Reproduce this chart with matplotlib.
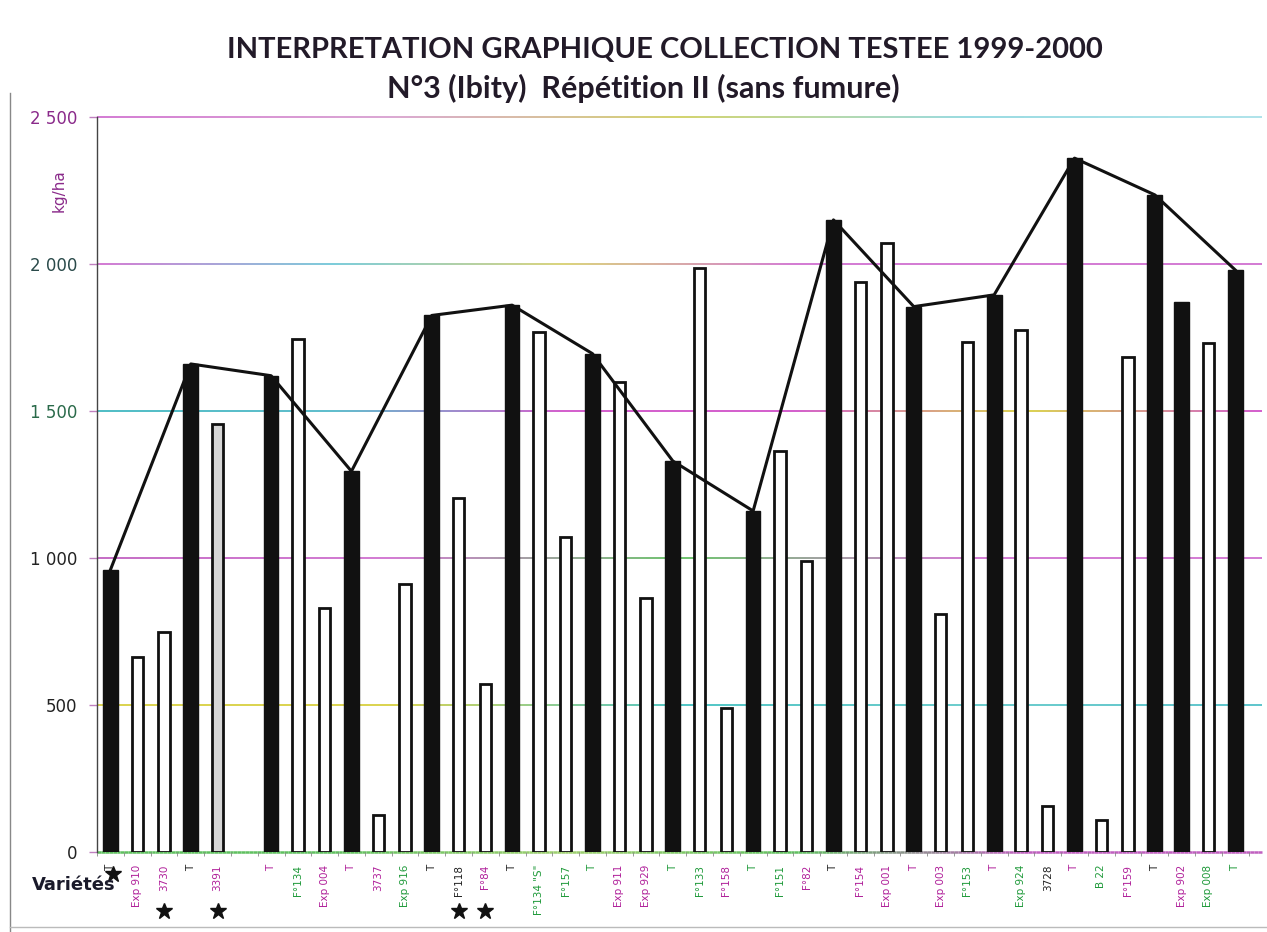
import numpy as np
import matplotlib
matplotlib.use("Agg")
import matplotlib.pyplot as plt
from matplotlib.collections import LineCollection
from matplotlib.colors import LinearSegmentedColormap
from matplotlib.lines import Line2D

# rendements par variété (kg/ha), témoins "T" compris
varietes = ["T", "Exp 910", "3730", "T", "3391", "", "T", "F°134", "Exp 004", "T",
            "3737", "Exp 916", "T", "F°118", "F°84", "T", "F°134 \"S\"", "F°157", "T",
            "Exp 911", "Exp 929", "T", "F°133", "F°158", "T", "F°151", "F°82", "T",
            "F°154", "Exp 001", "T", "Exp 003", "F°153", "T", "Exp 924", "3728", "T",
            "B 22", "F°159", "T", "Exp 902", "Exp 008", "T"]
rendement = [960, 665, 750, 1660, 1455, 0, 1620, 1745, 830, 1295,
             125, 910, 1825, 1205, 570, 1860, 1770, 1070, 1695,
             1600, 865, 1330, 1985, 490, 1160, 1365, 990, 2150,
             1940, 2070, 1855, 810, 1735, 1895, 1775, 155, 2360,
             110, 1685, 2235, 1870, 1730, 1980]
marquees = [0, 2, 4, 13, 14]   # positions signalées d'une étoile
fond_gris = ["3391"]
fond_noir = ["T", "Exp 902"]

MAG, VERT, NOIR = "#b0209a", "#1f9a3a", "#222222"
couleurs_etiq = [NOIR, MAG, MAG, NOIR, MAG, NOIR, MAG, VERT, MAG, MAG,
                 MAG, VERT, NOIR, NOIR, MAG, NOIR, VERT, VERT, VERT,
                 MAG, MAG, VERT, VERT, MAG, VERT, VERT, MAG, NOIR,
                 MAG, MAG, MAG, MAG, VERT, MAG, VERT, NOIR, MAG,
                 VERT, MAG, NOIR, MAG, VERT, VERT]

x = np.arange(len(varietes))
XMIN, XMAX = -0.5, 43.0

fig = plt.figure(figsize=(12.67, 9.32), dpi=100)
ax = fig.add_axes([0.0766, 0.0858, 0.9194, 0.7887])


def ligne_degrade(y, teintes, lw=1.3):
    # trait horizontal dont la couleur glisse d'une teinte à l'autre
    cmap = LinearSegmentedColormap.from_list("g", teintes)
    xs = np.linspace(XMIN, XMAX, 300)
    segs = [[(xs[i], y), (xs[i + 1], y)] for i in range(len(xs) - 1)]
    lc = LineCollection(segs, colors=cmap(np.linspace(0, 1, len(segs))),
                        linewidths=lw, zorder=0.5, clip_on=False)
    ax.add_collection(lc)


ligne_degrade(2500, ["#d070d0", "#d8a0d0", "#d0d060", "#90d8e0", "#a8e0e8"])
ligne_degrade(2000, ["#d070d0", "#70c8d8", "#d8d070", "#d070d0", "#d070d0", "#d070d0"])
ligne_degrade(1500, ["#40b8c0", "#50b8c8", "#d050c8", "#d050c8", "#d8d040", "#d050c8"])
ligne_degrade(1000, ["#c060c0", "#d070d0", "#60c060", "#d070d0", "#d070d0"])
ligne_degrade(500, ["#d8d040", "#d8d040", "#40c0c0", "#60c8c8", "#50c0c8"])

for i, (nom, v) in enumerate(zip(varietes, rendement)):
    if v == 0:
        continue
    if nom in fond_noir:
        ax.bar(x[i], v, width=0.55, color="#111111", edgecolor="#111111",
               linewidth=1.0, zorder=2)
    else:
        fond = "#d6d6d6" if nom in fond_gris else "white"
        ax.bar(x[i], v, width=0.42, color=fond, edgecolor="#111111",
               linewidth=2.0, zorder=2)

# ligne reliant les témoins
idx_t = [i for i, n in enumerate(varietes) if n == "T"]
ax.plot(x[idx_t], [rendement[i] for i in idx_t], color="#111111",
        linewidth=2.2, zorder=3, solid_joinstyle="round")

ligne_degrade(0, ["#60c060", "#60c060", "#a0d070", "#60c060", "#c060c0", "#c060c0"], lw=1.8)

ax.set_xlim(XMIN, XMAX)
ax.set_ylim(0, 2500)
for s in ["top", "right", "bottom"]:
    ax.spines[s].set_visible(False)
ax.spines["left"].set_color("#444444")
ax.spines["left"].set_linewidth(1.0)

ax.set_yticks([0, 500, 1000, 1500, 2000, 2500])
ax.set_yticklabels(["0", "500", "1 000", "1 500", "2 000", "2 500"], fontsize=12)
ax.tick_params(axis="y", length=6, width=1.0, color="#c080c0", pad=8)
for lab, c in zip(ax.get_yticklabels(), [NOIR, NOIR, NOIR, "#2a6a4a", "#2a4a4a", "#8a2a8a"]):
    lab.set_color(c)

ax.set_xticks(x)
ax.set_xticklabels(varietes, rotation=90, fontsize=7.5, va="top")
ax.tick_params(axis="x", length=0, pad=9)
for lab, c in zip(ax.get_xticklabels(), couleurs_etiq):
    lab.set_color(c)
ax.set_xticks(np.arange(XMIN, XMAX, 1.0), minor=True)
ax.tick_params(axis="x", which="minor", length=3, color="#888888", direction="out")

# étoiles sous les variétés signalées
for i in marquees:
    y_ax = -0.03 if i == 0 else -0.08
    ax.plot(x[i] + (0.1 if i == 0 else 0), y_ax, marker="*", markersize=12,
            color="#111111", transform=ax.get_xaxis_transform(),
            clip_on=False, zorder=4)

fig.text(0.047, 0.796, "kg/ha", rotation=90, ha="center", va="center",
         fontsize=11, color="#8a2a8a")
fig.text(0.058, 0.05, "Variétés", ha="center", va="center", fontsize=13,
         fontweight="bold", color="#1a1a2a")

fig.text(0.525, 0.946, "INTERPRETATION GRAPHIQUE COLLECTION TESTEE 1999-2000",
         ha="center", va="center", fontsize=21, fontweight="bold",
         family="Lato", color="#221a28")
fig.text(0.508, 0.905, "N°3 (Ibity)  Répétition II (sans fumure)",
         ha="center", va="center", fontsize=22, fontweight="bold",
         family="Lato", color="#221a28")

# cadre extérieur
fig.add_artist(Line2D([0.008, 0.008], [0.0, 0.9], color="#888888", linewidth=1.0))
fig.add_artist(Line2D([0.008, 1.0], [0.005, 0.005], color="#bbbbbb", linewidth=1.0))

fig.savefig("out.png", dpi=100)
